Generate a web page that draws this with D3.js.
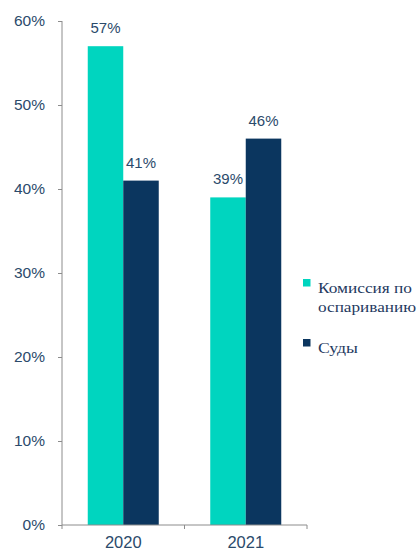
<!DOCTYPE html>
<html><head><meta charset="utf-8">
<script src="https://cdn.jsdelivr.net/npm/d3@7"></script>
<style>body{margin:0;background:#fff}</style></head>
<body><svg id="c" width="417" height="553"></svg>
<script>
const categories = ["2020", "2021"];
const seriesNames = ["Комиссия по оспариванию", "Суды"];
const commission = [57, 39];
const courts = [41, 46];
const yTicks = [0, 10, 20, 30, 40, 50, 60];
const colors = ["#00D5BF", "#0B365F"];
const textColor = "#2B4A6B";

const svg = d3.select("#c");
const x0 = 62, x1 = 307, yTop = 21, yBot = 525;
const x = d3.scaleBand().domain(categories).range([x0, x1]).paddingInner(0).paddingOuter(0);
const y = d3.scaleLinear().domain([0, 60]).range([yBot, yTop]);
const series = [commission, courts];
const barW = 35.5;

// y axis
const yAxis = d3.axisLeft(y).tickValues(yTicks).tickFormat(d => d + "%").tickSize(4).tickPadding(13);
const gy = svg.append("g").attr("transform", `translate(${x0},0)`).call(yAxis);
gy.select(".domain").attr("stroke", "#8c8c8c").attr("d", `M0,${yTop}V${yBot}`);
gy.selectAll(".tick line").attr("stroke", "#8c8c8c");
gy.selectAll(".tick text").attr("fill", textColor).style("font-family", "Arial, 'Liberation Sans', sans-serif").style("font-size", "15.5px");

// bars
categories.forEach((c, i) => {
  const cx = x(c) + x.bandwidth() / 2;
  series.forEach((s, j) => {
    const bx = cx - barW + j * barW;
    svg.append("rect").attr("x", bx).attr("y", y(s[i])).attr("width", barW)
      .attr("height", y(0) - y(s[i])).attr("fill", colors[j]);
    svg.append("text").attr("x", bx + barW / 2).attr("y", y(s[i]) - 13)
      .attr("text-anchor", "middle").attr("fill", textColor)
      .style("font-family", "Arial, 'Liberation Sans', sans-serif").style("font-size", "15px")
      .text(s[i] + "%");
  });
});

// x axis
const xAxis = d3.axisBottom(x).tickSize(0).tickPadding(11);
const gx = svg.append("g").attr("transform", `translate(0,${yBot})`).call(xAxis);
gx.select(".domain").attr("stroke", "#8c8c8c").attr("d", `M${x0},0H${x1}`);
gx.selectAll(".tick text").attr("fill", textColor).style("font-family", "Arial, 'Liberation Sans', sans-serif").style("font-size", "16.5px");
[x0, x0 + x.bandwidth(), x1].forEach(px => {
  gx.append("line").attr("x1", px).attr("x2", px).attr("y1", 0).attr("y2", 4).attr("stroke", "#8c8c8c");
});

// legend
const lg = svg.append("g");
const legendItems = [
  {lines: ["Комиссия по", "оспариванию"], widths: [94, 98], y: 293, color: colors[0]},
  {lines: ["Суды"], widths: [40], y: 353, color: colors[1]}
];
legendItems.forEach(it => {
  lg.append("rect").attr("x", 303).attr("y", it.y - 14).attr("width", 7.5).attr("height", 7.5).attr("fill", it.color);
  const t = lg.append("text").attr("x", 318).attr("y", it.y).attr("fill", "#1F3A5F")
    .style("font-family", "'Liberation Serif', 'Times New Roman', serif").style("font-size", "15px");
  it.lines.forEach((l, k) => t.append("tspan").attr("x", 318).attr("dy", k === 0 ? 0 : 19)
    .attr("textLength", it.widths[k]).attr("lengthAdjust", "spacingAndGlyphs").text(l));
});
</script></body></html>
